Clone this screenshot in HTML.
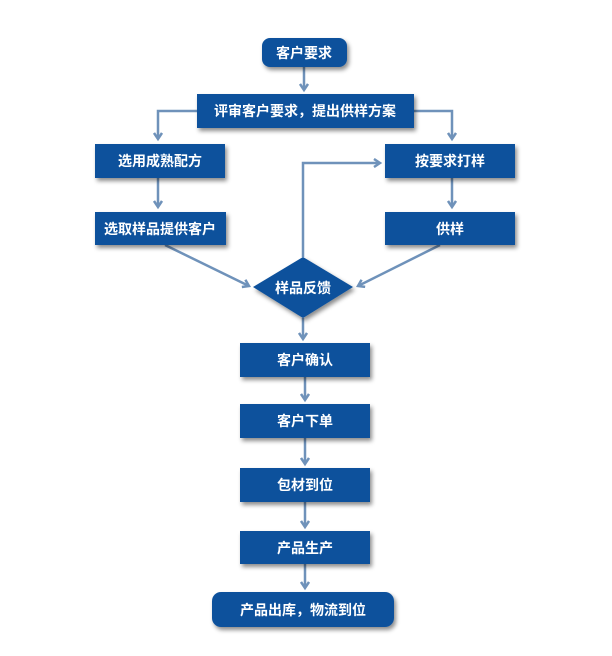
<!DOCTYPE html>
<html><head><meta charset="utf-8"><style>
body{margin:0;background:#fff;}
svg text{font-family:"Liberation Sans","Noto Sans CJK SC",sans-serif;font-weight:bold;fill:#fff;font-size:14px;text-anchor:middle;dominant-baseline:central;}
</style></head><body>
<svg width="612" height="651" viewBox="0 0 612 651" xmlns="http://www.w3.org/2000/svg">
<defs>
<filter id="s" x="-10%" y="-20%" width="130%" height="150%"><feDropShadow dx="2" dy="3" stdDeviation="2" flood-color="#000" flood-opacity="0.45"/></filter>
<marker id="a" markerWidth="10" markerHeight="10" refX="7" refY="5" orient="auto" markerUnits="userSpaceOnUse"><path d="M1,1 L7,5 L1,9" fill="none" stroke="#6f92ba" stroke-width="2.5"/></marker>
</defs>
<g stroke="#6f92ba" stroke-width="2.5" fill="none" marker-end="url(#a)">
<path d="M304,67 V90"/>
<path d="M197,111 H158 V139"/>
<path d="M414,111 H452 V139"/>
<path d="M158,178 V207"/>
<path d="M452,178 V207"/>
<path d="M303,257 V163 H380"/>
<path d="M165,245 L249,286"/>
<path d="M440,245 L358,286"/>
<path d="M303,318 V339"/>
<path d="M305,377 V400"/>
<path d="M305,438 V464"/>
<path d="M305,502 V527"/>
<path d="M305,564 V588"/>
</g>
<g fill="#0b519c" filter="url(#s)">
<rect x="262" y="38" width="85" height="29" rx="8"/>
<rect x="197" y="94" width="217" height="34"/>
<rect x="95" y="144" width="130" height="34"/>
<rect x="95" y="212" width="131" height="33"/>
<rect x="385" y="144" width="130" height="34"/>
<rect x="385" y="212" width="130" height="33"/>
<polygon points="303,257 353,287 303,318 253,287"/>
<rect x="240" y="343" width="130" height="34"/>
<rect x="240" y="404" width="130" height="34"/>
<rect x="240" y="468" width="130" height="34"/>
<rect x="240" y="531" width="130" height="33"/>
<rect x="212" y="592" width="182" height="35" rx="9"/>
</g>
<text x="304" y="53">客户要求</text>
<text x="305" y="111">评审客户要求，提出供样方案</text>
<text x="160" y="161">选用成熟配方</text>
<text x="160" y="229">选取样品提供客户</text>
<text x="450" y="161">按要求打样</text>
<text x="450" y="229">供样</text>
<text x="303" y="288">样品反馈</text>
<text x="305" y="360">客户确认</text>
<text x="305" y="421">客户下单</text>
<text x="305" y="485">包材到位</text>
<text x="305" y="548">产品生产</text>
<text x="303" y="610">产品出库，物流到位</text>
</svg>
</body></html>
